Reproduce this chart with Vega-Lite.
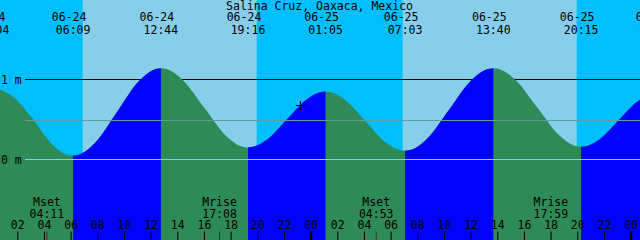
{
  "$schema": "https://vega.github.io/schema/vega-lite/v6.json",
  "width": 640,
  "height": 240,
  "autosize": {"type": "none"},
  "padding": 0,
  "background": "#00BFFF",
  "config": {
    "view": {"stroke": null},
    "text": {"font": "DejaVu Sans Mono", "fontSize": 11.5, "color": "#000000"}
  },
  "datasets": {
    "sky": [{"a": 6.87, "b": 19.92}, {"a": 30.87, "b": 43.92}],
    "curve": [
      {"h": 0.067, "v": 0.88, "r": 0},
      {"h": 0.554, "v": 0.875, "r": 0},
      {"h": 1.588, "v": 0.79, "r": 0},
      {"h": 3.109, "v": 0.51, "r": 0},
      {"h": 4.629, "v": 0.18, "r": 0},
      {"h": 5.664, "v": 0.06, "r": 0},
      {"h": 6.15, "v": 0.05, "r": 1},
      {"h": 6.677, "v": 0.067, "r": 1},
      {"h": 7.796, "v": 0.209, "r": 1},
      {"h": 9.442, "v": 0.595, "r": 1},
      {"h": 11.087, "v": 0.981, "r": 1},
      {"h": 12.206, "v": 1.123, "r": 1},
      {"h": 12.733, "v": 1.14, "r": 1},
      {"h": 13.256, "v": 1.124, "r": 0},
      {"h": 14.367, "v": 0.995, "r": 0},
      {"h": 16.0, "v": 0.645, "r": 0},
      {"h": 17.634, "v": 0.295, "r": 0},
      {"h": 18.744, "v": 0.166, "r": 0},
      {"h": 19.267, "v": 0.15, "r": 2},
      {"h": 19.732, "v": 0.161, "r": 2},
      {"h": 20.721, "v": 0.252, "r": 2},
      {"h": 22.175, "v": 0.5, "r": 2},
      {"h": 23.629, "v": 0.748, "r": 2},
      {"h": 24.618, "v": 0.839, "r": 2},
      {"h": 25.083, "v": 0.85, "r": 2},
      {"h": 25.56, "v": 0.838, "r": 0},
      {"h": 26.575, "v": 0.742, "r": 0},
      {"h": 28.067, "v": 0.48, "r": 0},
      {"h": 29.558, "v": 0.218, "r": 0},
      {"h": 30.573, "v": 0.122, "r": 0},
      {"h": 31.05, "v": 0.11, "r": 3},
      {"h": 31.579, "v": 0.126, "r": 3},
      {"h": 32.704, "v": 0.26, "r": 3},
      {"h": 34.358, "v": 0.625, "r": 3},
      {"h": 36.013, "v": 0.99, "r": 3},
      {"h": 37.138, "v": 1.124, "r": 3},
      {"h": 37.667, "v": 1.14, "r": 3},
      {"h": 38.194, "v": 1.124, "r": 0},
      {"h": 39.313, "v": 0.997, "r": 0},
      {"h": 40.959, "v": 0.65, "r": 0},
      {"h": 42.604, "v": 0.303, "r": 0},
      {"h": 43.723, "v": 0.176, "r": 0},
      {"h": 44.25, "v": 0.16, "r": 4},
      {"h": 44.7, "v": 0.17, "r": 4},
      {"h": 45.658, "v": 0.257, "r": 4},
      {"h": 47.065, "v": 0.49, "r": 4},
      {"h": 48.473, "v": 0.724, "r": 4},
      {"h": 49.43, "v": 0.81, "r": 4},
      {"h": 49.95, "v": 0.82, "r": 4}
    ],
    "ev": [
      {"h": 0.067, "d": "06-24", "t": "00:04"},
      {"h": 6.15, "d": "06-24", "t": "06:09"},
      {"h": 12.733, "d": "06-24", "t": "12:44"},
      {"h": 19.267, "d": "06-24", "t": "19:16"},
      {"h": 25.083, "d": "06-25", "t": "01:05"},
      {"h": 31.05, "d": "06-25", "t": "07:03"},
      {"h": 37.667, "d": "06-25", "t": "13:40"},
      {"h": 44.25, "d": "06-25", "t": "20:15"},
      {"h": 49.95, "d": "06-26", "t": "01:57"}
    ],
    "moon": [
      {"h": 4.183, "n": "Mset", "t": "04:11"},
      {"h": 17.133, "n": "Mrise", "t": "17:08"},
      {"h": 28.883, "n": "Mset", "t": "04:53"},
      {"h": 41.983, "n": "Mrise", "t": "17:59"}
    ],
    "hrs": [
      {"h": 2, "l": "02"}, {"h": 4, "l": "04"}, {"h": 6, "l": "06"}, {"h": 8, "l": "08"},
      {"h": 10, "l": "10"}, {"h": 12, "l": "12"}, {"h": 14, "l": "14"}, {"h": 16, "l": "16"},
      {"h": 18, "l": "18"}, {"h": 20, "l": "20"}, {"h": 22, "l": "22"}, {"h": 24, "l": "00"},
      {"h": 26, "l": "02"}, {"h": 28, "l": "04"}, {"h": 30, "l": "06"}, {"h": 32, "l": "08"},
      {"h": 34, "l": "10"}, {"h": 36, "l": "12"}, {"h": 38, "l": "14"}, {"h": 40, "l": "16"},
      {"h": 42, "l": "18"}, {"h": 44, "l": "20"}, {"h": 46, "l": "22"}, {"h": 48, "l": "00"}
    ],
    "levels": [{"v": 1, "l": "1 m"}, {"v": 0, "l": "0 m"}],
    "now": [{"h": 23.2, "v": 0.675}],
    "title": [{"t": "Salina Cruz, Oaxaca, Mexico"}]
  },
  "layer": [
    {
      "data": {"name": "sky"},
      "mark": {"type": "rect", "color": "#87CEEB"},
      "encoding": {
        "x": {"field": "a", "type": "quantitative", "scale": {"domain": [0.667, 48.667], "nice": false, "zero": false}, "axis": null},
        "x2": {"field": "b"}
      }
    },
    {
      "data": {"values": [{"v": 1}]},
      "mark": {"type": "rule", "color": "#000000", "strokeWidth": 1},
      "encoding": {
        "y": {"field": "v", "type": "quantitative", "scale": {"domain": [-1.00625, 1.99375], "nice": false, "zero": false}, "axis": null},
        "x": {"datum": 2.542},
        "x2": {"datum": 48.667}
      }
    },
    {
      "data": {"name": "curve"},
      "mark": {"type": "area", "interpolate": "monotone", "color": "#2E8B57", "clip": true},
      "encoding": {
        "x": {"field": "h", "type": "quantitative"},
        "y": {"field": "v", "type": "quantitative", "stack": null},
        "y2": {"datum": -1.2}
      }
    },
    {
      "data": {"name": "curve"},
      "transform": [{"filter": "datum.r > 0"}],
      "mark": {"type": "area", "interpolate": "monotone", "color": "#0000FF", "clip": true},
      "encoding": {
        "x": {"field": "h", "type": "quantitative"},
        "y": {"field": "v", "type": "quantitative", "stack": null},
        "y2": {"datum": -1.2},
        "detail": {"field": "r", "type": "nominal"}
      }
    },
    {
      "data": {"values": [{"v": 0.4875}]},
      "mark": {"type": "rule", "color": "#5F9EA0", "strokeWidth": 1},
      "encoding": {
        "y": {"field": "v", "type": "quantitative"},
        "x": {"datum": 2.542},
        "x2": {"datum": 48.667}
      }
    },
    {
      "data": {"values": [{"v": 0}]},
      "mark": {"type": "rule", "color": "#87CEEB", "strokeWidth": 1},
      "encoding": {
        "y": {"field": "v", "type": "quantitative"},
        "x": {"datum": 2.542},
        "x2": {"datum": 48.667}
      }
    },
    {
      "data": {"name": "hrs"},
      "transform": [{"filter": "datum.l != '00'"}],
      "mark": {"type": "rule", "color": "#000000", "strokeWidth": 1},
      "encoding": {
        "x": {"field": "h", "type": "quantitative"},
        "y": {"datum": -0.9},
        "y2": {"datum": -1.00625}
      }
    },
    {
      "data": {"name": "hrs"},
      "transform": [{"filter": "datum.l == '00'"}],
      "mark": {"type": "rule", "color": "#000000", "strokeWidth": 2.5},
      "encoding": {
        "x": {"field": "h", "type": "quantitative"},
        "y": {"datum": -0.9},
        "y2": {"datum": -1.00625}
      }
    },
    {
      "data": {"name": "moon"},
      "mark": {"type": "rule", "color": "#333333", "strokeWidth": 1},
      "encoding": {
        "x": {"field": "h", "type": "quantitative"},
        "y": {"datum": -0.9},
        "y2": {"datum": -1.00625}
      }
    },
    {
      "data": {"name": "title"},
      "mark": {"type": "text", "align": "center", "baseline": "alphabetic"},
      "encoding": {
        "text": {"field": "t"},
        "x": {"datum": 24.63},
        "y": {"datum": 1.86875}
      }
    },
    {
      "data": {"name": "ev"},
      "mark": {"type": "text", "align": "center", "baseline": "alphabetic", "dx": -4, "clip": true},
      "encoding": {
        "text": {"field": "d"},
        "x": {"field": "h", "type": "quantitative"},
        "y": {"datum": 1.73125}
      }
    },
    {
      "data": {"name": "ev"},
      "mark": {"type": "text", "align": "center", "baseline": "alphabetic", "clip": true},
      "encoding": {
        "text": {"field": "t"},
        "x": {"field": "h", "type": "quantitative"},
        "y": {"datum": 1.56875}
      }
    },
    {
      "data": {"name": "moon"},
      "mark": {"type": "text", "align": "center", "baseline": "alphabetic"},
      "encoding": {
        "text": {"field": "n"},
        "x": {"field": "h", "type": "quantitative"},
        "y": {"datum": -0.58125}
      }
    },
    {
      "data": {"name": "moon"},
      "mark": {"type": "text", "align": "center", "baseline": "alphabetic"},
      "encoding": {
        "text": {"field": "t"},
        "x": {"field": "h", "type": "quantitative"},
        "y": {"datum": -0.7338}
      }
    },
    {
      "data": {"name": "hrs"},
      "mark": {"type": "text", "align": "center", "baseline": "alphabetic", "clip": true},
      "encoding": {
        "text": {"field": "l"},
        "x": {"field": "h", "type": "quantitative"},
        "y": {"datum": -0.8725}
      }
    },
    {
      "data": {"name": "levels"},
      "mark": {"type": "text", "align": "left", "baseline": "alphabetic", "dy": 4},
      "encoding": {
        "text": {"field": "l"},
        "x": {"datum": 0.742},
        "y": {"field": "v", "type": "quantitative"}
      }
    },
    {
      "data": {"name": "now"},
      "mark": {"type": "point", "shape": "M-1,0H1M0,-1V1", "size": 81, "filled": false, "stroke": "#000000", "strokeWidth": 1, "opacity": 1},
      "encoding": {
        "x": {"field": "h", "type": "quantitative"},
        "y": {"field": "v", "type": "quantitative"}
      }
    }
  ]
}
